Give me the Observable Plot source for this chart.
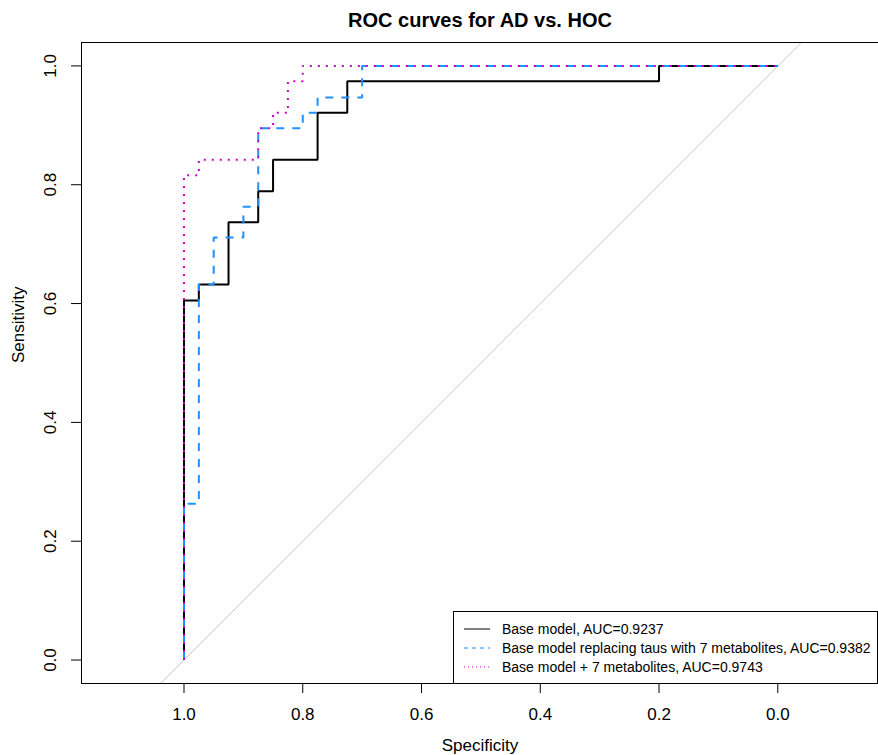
<!DOCTYPE html>
<html>
<head>
<meta charset="utf-8">
<script src="https://cdn.jsdelivr.net/npm/d3@7"></script>
<script src="https://cdn.jsdelivr.net/npm/@observablehq/plot@0.6"></script>
<style>
  body { margin: 0; background: #fff; }
  #wrap { position: relative; width: 878px; height: 755px; font-family: "Liberation Sans", Arial, sans-serif; }
  #legend { position: absolute; left: 453px; top: 611px; width: 423px; height: 71px; border: 1px solid #000; background: #fff; font-size: 14px; color: #000; }
  #legend .row { position: absolute; left: 10px; height: 18px; display: flex; align-items: center; white-space: nowrap; }
  #legend svg { margin-right: 12px; }
</style>
</head>
<body>
<div id="wrap"></div>
<script>
// ---- data ----
const title = "ROC curves for AD vs. HOC";
const xLabel = "Specificity";
const yLabel = "Sensitivity";
const tickValues = [0, 0.2, 0.4, 0.6, 0.8, 1.0];

const seriesNames = [
  "Base model, AUC=0.9237",
  "Base model replacing taus with 7 metabolites, AUC=0.9382",
  "Base model + 7 metabolites, AUC=0.9743"
];
const seriesColors = ["#000000", "#1E90FF", "#CD00CD"];
const seriesDash = [null, "8,8", "2,6"];

// ROC vertices (specificity, sensitivity)
const baseSpec = [1, 1, 0.975, 0.975, 0.925, 0.925, 0.875, 0.875, 0.85, 0.85, 0.775, 0.775, 0.725, 0.725, 0.2, 0.2, 0];
const baseSens = [0, 0.605, 0.605, 0.632, 0.632, 0.737, 0.737, 0.789, 0.789, 0.842, 0.842, 0.921, 0.921, 0.974, 0.974, 1, 1];

const replSpec = [1, 1, 0.975, 0.975, 0.95, 0.95, 0.9, 0.9, 0.875, 0.875, 0.8, 0.8, 0.775, 0.775, 0.7, 0.7, 0];
const replSens = [0, 0.263, 0.263, 0.632, 0.632, 0.711, 0.711, 0.763, 0.763, 0.895, 0.895, 0.921, 0.921, 0.947, 0.947, 1, 1];

const plusSpec = [1, 1, 0.975, 0.975, 0.875, 0.875, 0.85, 0.85, 0.825, 0.825, 0.8, 0.8, 0];
const plusSens = [0, 0.816, 0.816, 0.842, 0.842, 0.895, 0.895, 0.921, 0.921, 0.974, 0.974, 1, 1];

const xDomain = [1.1726, -0.1696];
const yDomain = [-0.0395, 1.0394];

// ---- build ----
const toRows = (xs, ys) => xs.map((x, i) => ({spec: x, sens: ys[i]}));
const series = [toRows(baseSpec, baseSens), toRows(replSpec, replSens), toRows(plusSpec, plusSens)];

// diagonal reference line (sens = 1 - spec) across the plot region
const diag = [
  {spec: 1 - yDomain[0], sens: yDomain[0]},
  {spec: 1 - yDomain[1], sens: yDomain[1]}
];

const font = "Liberation Sans, Arial, sans-serif";
const fmt = d3.format(".1f");

const chart = Plot.plot({
  width: 878,
  height: 755,
  marginLeft: 81,
  marginRight: 0,
  marginTop: 42,
  marginBottom: 72,
  style: {fontFamily: font, background: "#fff", overflow: "visible"},
  x: {domain: xDomain, axis: null},
  y: {domain: yDomain, axis: null},
  marks: [
    Plot.line(diag, {x: "spec", y: "sens", stroke: "#c8c8c8", strokeWidth: 1, clip: true}),
    ...series.map((d, i) => Plot.line(d, {
      x: "spec", y: "sens",
      stroke: seriesColors[i],
      strokeWidth: 2,
      strokeDasharray: seriesDash[i],
      strokeLinecap: "butt",
      strokeLinejoin: "miter"
    })),
    Plot.frame({stroke: "#000", strokeWidth: 1}),
    Plot.axisX({ticks: tickValues, tickSize: 10, tickPadding: 14, tickFormat: fmt, fontSize: 17, label: null, stroke: "#000"}),
    Plot.axisY({ticks: tickValues, tickSize: 10, tickFormat: () => "", label: null, stroke: "#000"}),
    Plot.text(tickValues, {y: d => d, text: fmt, frameAnchor: "left", dx: -31, rotate: -90, fontSize: 17, textAnchor: "middle", lineAnchor: "middle"}),
    Plot.text([xLabel], {frameAnchor: "bottom", dy: 62, fontSize: 17, lineAnchor: "middle"}),
    Plot.text([yLabel], {frameAnchor: "left", dx: -63, rotate: -90, fontSize: 17, lineAnchor: "middle"}),
    Plot.text([title], {frameAnchor: "top", dy: -22, fontSize: 20, fontWeight: "bold", lineAnchor: "middle"})
  ]
});

const wrap = document.getElementById("wrap");
wrap.appendChild(chart);

// legend
const legend = document.createElement("div");
legend.id = "legend";
seriesNames.forEach((name, i) => {
  const row = document.createElement("div");
  row.className = "row";
  row.style.top = (8 + i * 19) + "px";
  const dash = i === 0 ? "" : (i === 1 ? "4,4" : "1,3");
  row.innerHTML = `<svg width="26" height="4"><line x1="0" x2="26" y1="2" y2="2" stroke="${seriesColors[i]}" stroke-width="1" ${dash ? `stroke-dasharray="${dash}"` : ""}/></svg><span>${name}</span>`;
  legend.appendChild(row);
});
wrap.appendChild(legend);
</script>
</body>
</html>
